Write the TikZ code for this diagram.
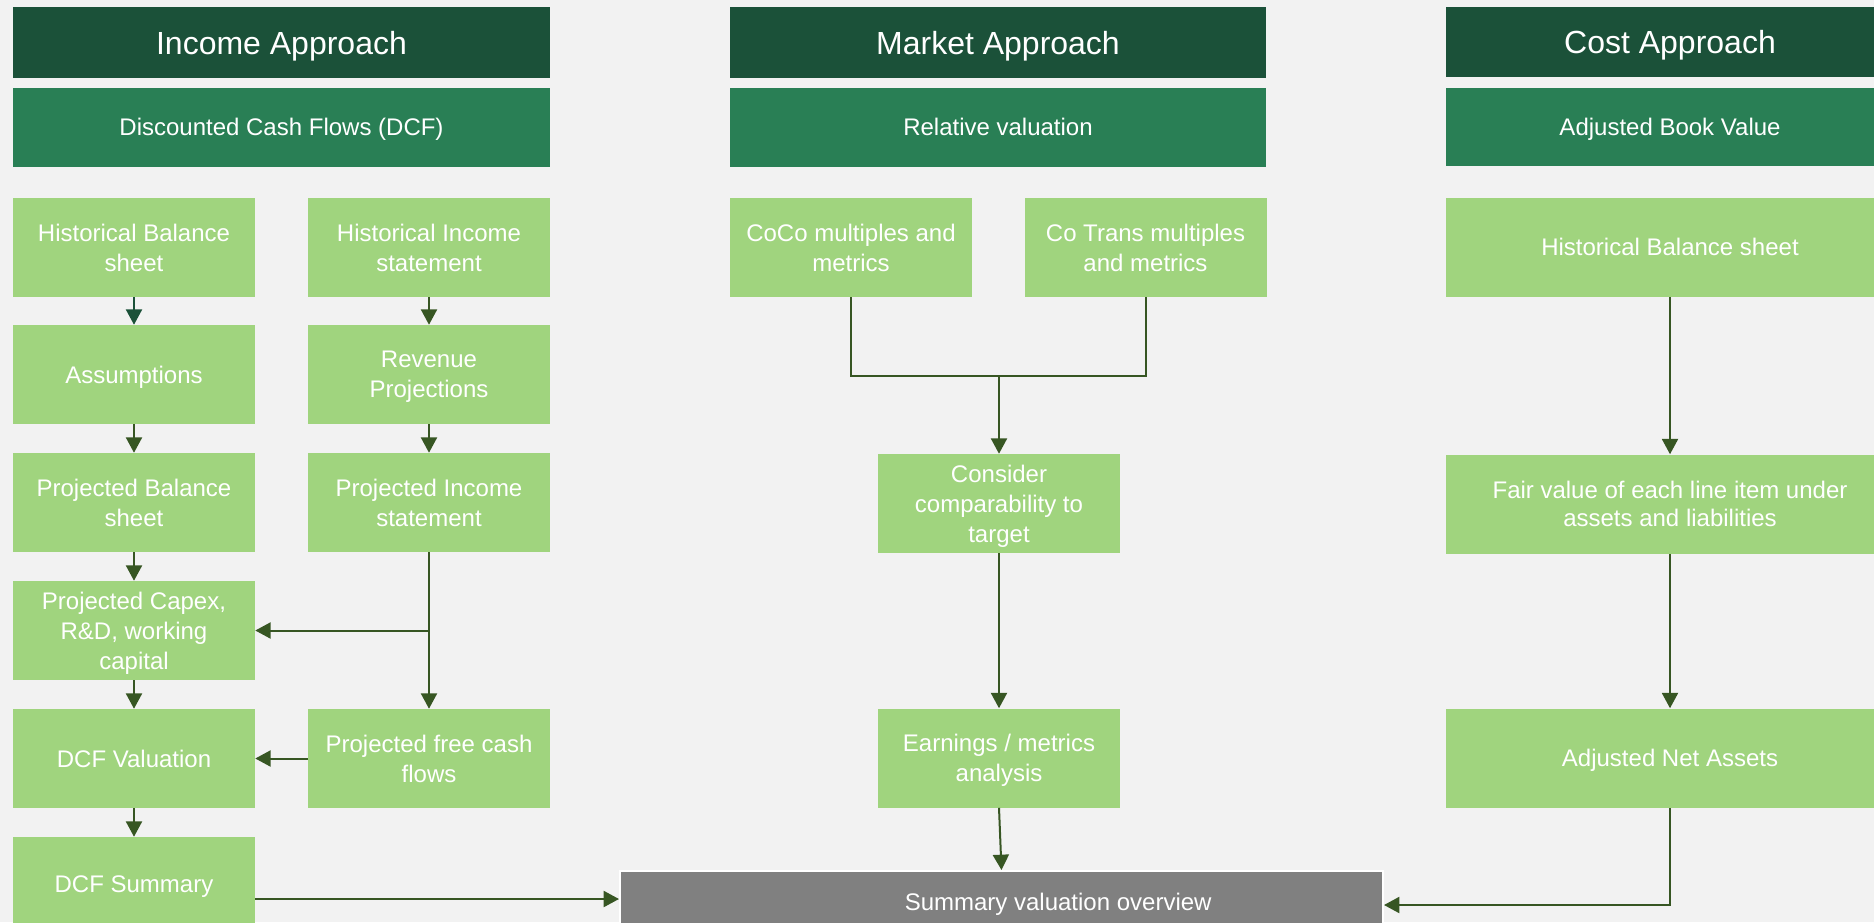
\documentclass[tikz,border=0pt]{standalone}
\usepackage{fontspec}
\setmainfont{Liberation Sans}
\usetikzlibrary{arrows.meta}
\definecolor{bgc}{HTML}{F2F2F2}
\definecolor{hdrc}{HTML}{1B5139}
\definecolor{subc}{HTML}{297F55}
\definecolor{boxc}{HTML}{A0D47E}
\definecolor{arrc}{HTML}{375623}
\definecolor{sumc}{HTML}{808080}
\tikzset{
  hdr/.style={fill=hdrc, text=white, font=\fontsize{24}{28}\selectfont, inner sep=0pt, text depth=0pt},
  subh/.style={fill=subc, text=white, font=\fontsize{18}{22}\selectfont, inner sep=0pt, text depth=0pt},
  bx/.style={fill=boxc, text=white, font=\fontsize{18}{22.5}\selectfont, align=center,
     minimum width={242*0.75pt}, minimum height={99*0.75pt}, inner sep=0pt, text depth=0pt},
  arr/.style={draw=arrc, line width=1.5pt, -{Triangle[width=12pt,length=11.5pt]}},
  ln/.style={draw=arrc, line width=1.5pt},
}
\begin{document}
\begin{tikzpicture}[x=0.75pt,y=-0.75pt]
\useasboundingbox (0,0) rectangle (1874,922);
\fill[bgc] (0,0) rectangle (1874,922);
\clip (0,0) rectangle (1874,922);

% Income approach
\node[hdr, minimum width={537*0.75pt}, minimum height={71*0.75pt}] (incH) at (281.5,42.5) {Income Approach};
\node[subh, minimum width={537*0.75pt}, minimum height={79*0.75pt}] (incS) at (281.5,127) {Discounted Cash Flows (DCF)};
\node[bx] (hb) at (134,247.5) {Historical Balance\\sheet};
\node[bx] (hi) at (429,247.5) {Historical Income\\statement};
\node[bx] (as) at (134,374.5) {Assumptions};
\node[bx] (rp) at (429,374.5) {Revenue\\Projections};
\node[bx] (pb) at (134,502.5) {Projected Balance\\sheet};
\node[bx] (pi) at (429,502.5) {Projected Income\\statement};
\node[bx] (cap) at (134,630.5) {Projected Capex,\\R\&D, working\\capital};
\node[bx] (dv) at (134,758.5) {DCF Valuation};
\node[bx] (fcf) at (429,758.5) {Projected free cash\\flows};
\node[bx] (ds) at (134,886.5) {\raisebox{4pt}{DCF Summary}};

% Market approach
\node[hdr, minimum width={536*0.75pt}, minimum height={71*0.75pt}] (mkH) at (998,42.5) {Market Approach};
\node[subh, minimum width={536*0.75pt}, minimum height={79*0.75pt}] (mkS) at (998,127) {Relative valuation};
\node[bx] (coco) at (851,247.5) {CoCo multiples and\\metrics};
\node[bx] (cotr) at (1145.5,247.5) {Co Trans multiples\\and metrics};
\node[bx] (cons) at (999,503.5) {Consider\\comparability to\\target};
\node[bx] (earn) at (999,758) {Earnings / metrics\\analysis};

% Summary
\node[fill=sumc, draw=white, line width=1.5pt, text=white, font=\fontsize{18}{22}\selectfont,
      minimum width={763*0.75pt}, minimum height={62*0.75pt}, inner sep=0pt, text depth=0pt] (sum) at (1001.5,902)
      {\hspace*{85pt}Summary valuation overview};

% Cost approach
\node[hdr, minimum width={448*0.75pt}, minimum height={70*0.75pt}] (cstH) at (1670,42) {Cost Approach};
\node[subh, minimum width={448*0.75pt}, minimum height={78*0.75pt}] (cstS) at (1670,126.5) {Adjusted Book Value};
\node[bx, minimum width={448*0.75pt}] (chb) at (1670,247) {Historical Balance sheet};
\node[bx, minimum width={448*0.75pt}, font=\fontsize{18}{21}\selectfont] (fv) at (1670,504) {Fair value of each line item under\\assets and liabilities};
\node[bx, minimum width={448*0.75pt}] (ana) at (1670,758) {Adjusted Net Assets};

% Income connectors
\draw[arr, draw=hdrc] (hb) -- (as);
\draw[arr] (as) -- (pb);
\draw[arr] (pb) -- (cap);
\draw[arr] (cap) -- (dv);
\draw[arr] (dv) -- (ds);
\draw[arr] (hi) -- (rp);
\draw[arr] (rp) -- (pi);
\draw[arr] (pi) -- (fcf);
\coordinate (br) at (pi.south |- cap.east);
\draw[arr] (br) -- (cap.east);
\draw[arr] (fcf) -- (dv);
\path (ds.east |- sum.west) ++(0,-3) coordinate (dsout);
\draw[arr] (dsout) -- (dsout -| sum.west);

% Market connectors
\coordinate (jn) at (999,376);
\draw[ln] (coco.south) |- (jn) -| (cotr.south);
\draw[arr] (jn) -- (cons.north);
\draw[arr] (cons) -- (earn);
\draw[arr] (earn.south) -- (sum.north);

% Cost connectors
\draw[arr] (chb) -- (fv);
\draw[arr] (fv) -- (ana);
\coordinate (cin) at ([yshift=-3*0.75pt]sum.east);
\draw[arr] (ana.south) |- (cin);
\end{tikzpicture}
\end{document}
